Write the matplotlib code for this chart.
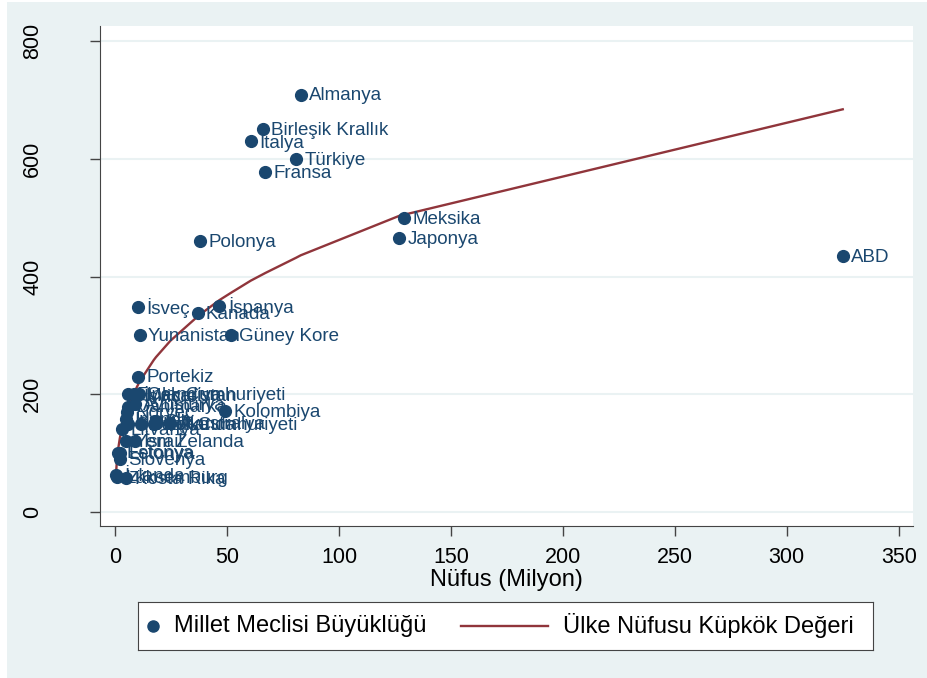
import numpy as np
import matplotlib.pyplot as plt
from matplotlib.patches import Rectangle

plt.rcParams['font.family'] = ['Liberation Sans', 'DejaVu Sans']

# Ülkeler, nüfus (milyon), meclis büyüklüğü ve nüfusun küpkök değeri
ulkeler = ["Avustralya", "Avusturya", "Belçika", "Kanada", "Şili", "Çek Cumhuriyeti",
           "Danimarka", "Estonya", "Finlandiya", "Fransa", "Almanya", "Yunanistan",
           "Macaristan", "İzlanda", "İrlanda", "İsrail", "İtalya", "Japonya",
           "Güney Kore", "Letonya", "Litvanya", "Lüksemburg", "Meksika", "Hollanda",
           "Yeni Zelanda", "Norveç", "Polonya", "Portekiz", "Slovak Cumhuriyeti",
           "Slovenya", "İspanya", "İsveç", "İsviçre", "Türkiye", "Birleşik Krallık",
           "ABD", "Kolombiya", "Kosta Rika"]
nufus = [24.6, 8.8, 11.4, 36.7, 18.1, 10.6,
         5.8, 1.3, 5.5, 67.0, 82.8, 10.8,
         9.8, 0.34, 4.8, 8.7, 60.5, 126.8,
         51.5, 1.95, 2.8, 0.6, 129.0, 17.1,
         4.8, 5.3, 38.0, 10.3, 5.4,
         2.1, 46.5, 10.1, 8.5, 80.8, 66.0,
         325.0, 49.0, 4.9]
meclis = [151, 183, 150, 338, 155, 200,
          179, 101, 200, 577, 709, 300,
          199, 63, 158, 120, 630, 465,
          300, 100, 141, 60, 500, 150,
          120, 169, 460, 230, 150,
          90, 350, 349, 200, 600, 650,
          435, 172, 57]
kupkok = [291, 206, 225, 332, 263, 220,
          180, 109, 177, 406, 436, 221,
          214, 70, 169, 206, 393, 503,
          372, 125, 141, 84, 505, 258,
          169, 174, 336, 218, 175,
          128, 360, 216, 204, 432, 404,
          684, 366, 170]

lacivert = '#1A476F'
bordo = '#90353B'
arka = '#EAF2F3'

fig = plt.figure(figsize=(9.28, 6.78), dpi=100, facecolor='white')
fig.patches.append(Rectangle((7 / 928, 0), 1, 1 - 2 / 678, transform=fig.transFigure,
                             facecolor=arka, edgecolor='none', zorder=-10))

ax = fig.add_axes([100 / 928, 1 - 526 / 678, 813 / 928, 500 / 678])
ax.set_facecolor('white')

ax.scatter(nufus, meclis, s=72, color=lacivert, zorder=3)
for ad, x, y in zip(ulkeler, nufus, meclis):
    ax.annotate(ad, (x, y), xytext=(6, -1), textcoords='offset points',
                va='center', ha='left', fontsize=13.5, color=lacivert, zorder=4)

sira = np.argsort(nufus)
ax.plot(np.array(nufus)[sira], np.array(kupkok)[sira], color=bordo, lw=1.7, zorder=2)

ax.set_xlim(-6.9, 356.4)
ax.set_ylim(-23.8, 825.5)
ax.set_xticks(range(0, 351, 50))
ax.set_yticks(range(0, 801, 200))
ax.set_yticklabels([str(v) for v in range(0, 801, 200)], rotation=90, va='center')
ax.grid(axis='y', color=arka, lw=1.5)
ax.set_axisbelow(True)
ax.tick_params(axis='x', length=7, width=1, labelsize=15.5, pad=8, color='#444444')
ax.tick_params(axis='y', length=7, width=1, labelsize=15.5, pad=34, color='#444444')
for s in ['top', 'right']:
    ax.spines[s].set_visible(False)
for s in ['left', 'bottom']:
    ax.spines[s].set_color('#444444')
ax.set_xlabel('Nüfus (Milyon)', fontsize=17, labelpad=1)

# Lejant kutusu
lg = fig.add_axes([138 / 928, 1 - 650 / 678, 735 / 928, 48 / 678])
lg.set_xlim(0, 735)
lg.set_ylim(0, 1)
lg.set_xticks([])
lg.set_yticks([])
for s in lg.spines.values():
    s.set_color('#444444')
lg.plot([15], [0.5], 'o', color=lacivert, markersize=8)
lg.text(36, 0.5, 'Millet Meclisi Büyüklüğü', fontsize=17, va='center')
lg.plot([323, 410], [0.5, 0.5], color=bordo, lw=1.7)
lg.text(425, 0.5, 'Ülke Nüfusu Küpkök Değeri', fontsize=17, va='center')

fig.savefig('out.png', dpi=100, facecolor=fig.get_facecolor())
